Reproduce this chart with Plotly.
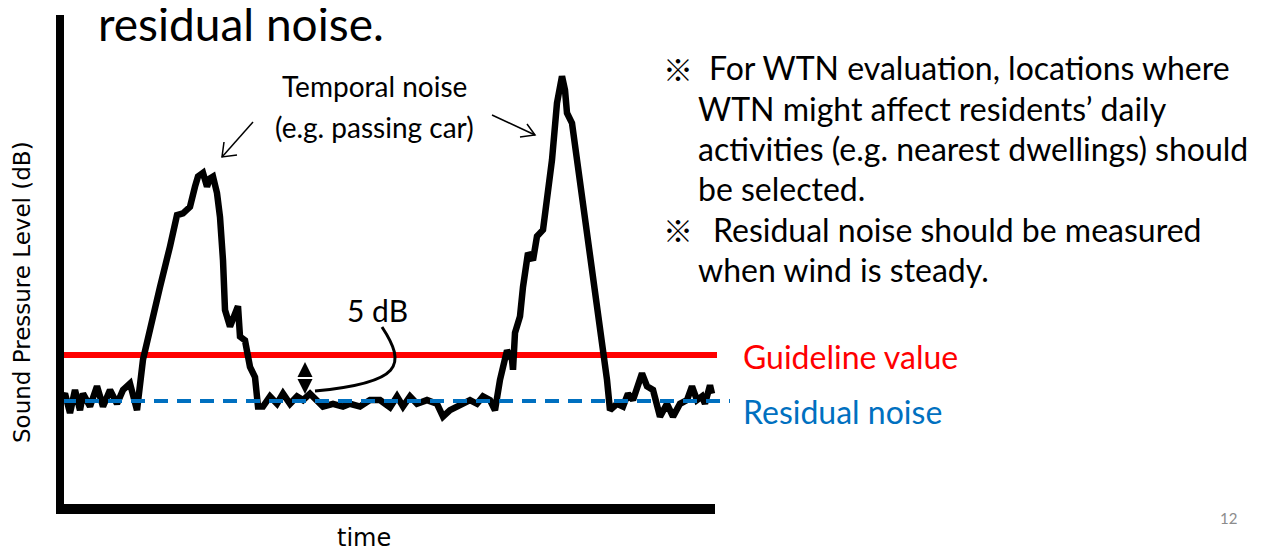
import plotly.graph_objects as go

# ---- data ----
time_s = [0, 3, 8, 13, 18, 21, 28, 35, 41, 48, 55, 61, 68, 75, 81, 88, 98, 108, 115, 121,
          128, 133, 136, 141, 145, 148, 151, 155, 158, 161, 163, 168, 173, 176, 178, 183, 188, 193, 196, 201,
          208, 215, 221, 228, 235, 241, 248, 255, 261, 271, 281, 288, 298, 308, 318, 328, 335, 341, 348, 355,
          365, 375, 381, 388, 395, 401, 408, 415, 421, 428, 433, 438, 445, 450, 451, 453, 458, 461, 466, 471,
          475, 481, 485, 490, 495, 500, 503, 505, 510, 515, 521, 528, 535, 540, 545, 548, 555, 561, 566, 571,
          580, 585, 591, 598, 605, 611, 618, 625, 630, 635, 640, 643, 648, 650]
level_db = [35.3, 35.8, 33.7, 36.2, 34.0, 35.8, 34.4, 36.6, 34.4, 36.2, 34.7, 36.2, 36.9, 34.0, 39.5, 43.1, 47.4, 51.8, 55.2, 55.4,
            56.1, 58.3, 59.4, 59.8, 58.3, 59.2, 59.4, 57.6, 55.0, 50.3, 44.9, 43.1, 44.5, 45.3, 42.0, 41.6, 38.7, 37.6, 34.4, 34.4,
            35.5, 34.7, 35.8, 34.7, 35.5, 35.1, 35.8, 35.1, 34.4, 34.7, 34.4, 34.7, 34.4, 35.1, 35.1, 34.3, 35.5, 34.4, 35.5, 34.7,
            35.1, 34.7, 33.3, 34.0, 34.4, 34.7, 35.1, 34.7, 35.5, 35.1, 34.0, 37.3, 40.5, 39.5, 38.4, 42.4, 44.2, 47.4, 51.1, 50.3,
            52.9, 53.6, 56.8, 61.2, 67.4, 70.3, 68.8, 66.3, 65.2, 61.2, 56.1, 51.1, 46.0, 40.9, 37.3, 34.0, 34.7, 34.4, 35.8, 35.1,
            38.0, 36.6, 36.2, 33.3, 34.7, 33.3, 34.7, 35.1, 36.6, 35.1, 35.5, 34.7, 36.7, 35.8]

guideline_db = 40
residual_db = 35
guideline_span = [0, 655]
residual_span = [0, 668]

right_notes = [
    "For WTN evaluation, locations where",
    "WTN might affect residents\u2019 daily",
    "activities (e.g. nearest dwellings) should",
    "be selected.",
    "Residual noise should be measured",
    "when wind is steady.",
]

# ---- layout geometry (page pixels of the 1261x551 window; the page body has an 8px margin) ----
PAGE_W, PAGE_H, OFF = 1261, 551, 8
W, H = PAGE_W - OFF, PAGE_H - OFF
L, R, T, B = 57, 730, 15, 515          # plot area in page pixels
PW, PH = R - L, B - T


def X(px):
    return (px - L) / PW


def Y(py):
    return (B - py) / PH


FONT = "Lato, 'Noto Sans', sans-serif"
WIDE = "'DejaVu Sans', sans-serif"
BLUE = "#0070C0"
RED = "#FF0000"

fig = go.Figure()
fig.add_trace(go.Scatter(x=guideline_span, y=[guideline_db] * 2, mode="lines",
                         line=dict(color=RED, width=6), hoverinfo="skip"))
fig.add_trace(go.Scatter(x=time_s, y=level_db, mode="lines",
                         line=dict(color="black", width=6.5), hoverinfo="skip"))
fig.add_trace(go.Scatter(x=residual_span, y=[residual_db] * 2, mode="lines",
                         line=dict(color=BLUE, width=4, dash="14px,9px"), hoverinfo="skip"))

shapes = [
    # axes
    dict(type="rect", xref="paper", yref="paper", x0=X(56), x1=X(64), y0=Y(514), y1=Y(15),
         fillcolor="black", line=dict(width=0)),
    dict(type="rect", xref="paper", yref="paper", x0=X(56), x1=X(715), y0=Y(514), y1=Y(504),
         fillcolor="black", line=dict(width=0)),
    # curve from "5 dB" to the double arrow
    dict(type="path", xref="paper", yref="paper",
         path=f"M {X(382)},{Y(327)} C {X(407)},{Y(365)} {X(402)},{Y(383)} {X(315)},{Y(391)}",
         line=dict(color="black", width=3)),
    # open arrowheads for "Temporal noise"
    dict(type="path", xref="paper", yref="paper",
         path=f"M {X(237)},{Y(155)} L {X(222)},{Y(157)} L {X(224)},{Y(142)}",
         line=dict(color="black", width=1.5)),
    dict(type="line", xref="paper", yref="paper", x0=X(253), y0=Y(122), x1=X(222), y1=Y(157),
         line=dict(color="black", width=1.5)),
    dict(type="path", xref="paper", yref="paper",
         path=f"M {X(520)},{Y(137)} L {X(535)},{Y(135)} L {X(527)},{Y(124)}",
         line=dict(color="black", width=1.5)),
    dict(type="line", xref="paper", yref="paper", x0=X(492), y0=Y(115), x1=X(535), y1=Y(135),
         line=dict(color="black", width=1.5)),
]

ann = []


def text(s, px, py, size, color="black", anchor="left", family=FONT, angle=0):
    ann.append(dict(text=s, xref="paper", yref="paper", x=X(px), y=Y(py), xanchor=anchor,
                    yanchor="middle", showarrow=False, textangle=angle,
                    font=dict(family=family, size=size, color=color)))


text("residual noise.", 96, 23, 46)
text("Temporal noise", 374, 86, 28, anchor="center")
text("(e.g. passing car)", 374, 127, 28, anchor="center")
text("5 dB", 377, 310, 30, anchor="center")
text("Guideline value", 741, 357, 32, color=RED)
text("Residual noise", 741, 411, 32, color=BLUE)
text("12", 1228, 518, 15, color="#8C8C8C", anchor="center")
text("time", 364, 538, 24, anchor="center", family=WIDE)
text("Sound Pressure Level (dB)", 22, 292, 23, anchor="center", family=WIDE, angle=-90)

mark_rows = [68, 229]
note_rows = [68, 108, 148, 188, 229, 269]
note_x = [707, 696, 696, 696, 711, 696]
for r in mark_rows:
    text("\u203B", 661, r, 30, family="'Noto Sans CJK JP', sans-serif")
for s, r, x in zip(right_notes, note_rows, note_x):
    text(s, x, r, 32)

# double-headed arrow (5 dB)
for tip, off in [(362, 16), (394, -16)]:
    ann.append(dict(text="", xref="paper", yref="paper", x=X(305), y=Y(tip), ax=0, ay=off,
                    axref="pixel", ayref="pixel", showarrow=True, arrowhead=2, arrowsize=1.5,
                    arrowwidth=2, arrowcolor="black"))

fig.update_layout(
    width=W, height=H,
    margin=dict(l=L - OFF, r=PAGE_W - R, t=T - OFF, b=PAGE_H - B, pad=0),
    paper_bgcolor="white", plot_bgcolor="white",
    showlegend=False,
    xaxis=dict(visible=False, range=[-5, 668], fixedrange=True),
    yaxis=dict(visible=False, range=[residual_db - (B - 401) / 9.2, residual_db + (401 - T) / 9.2],
               fixedrange=True),
    shapes=shapes, annotations=ann,
)

fig.write_html("out.html")
